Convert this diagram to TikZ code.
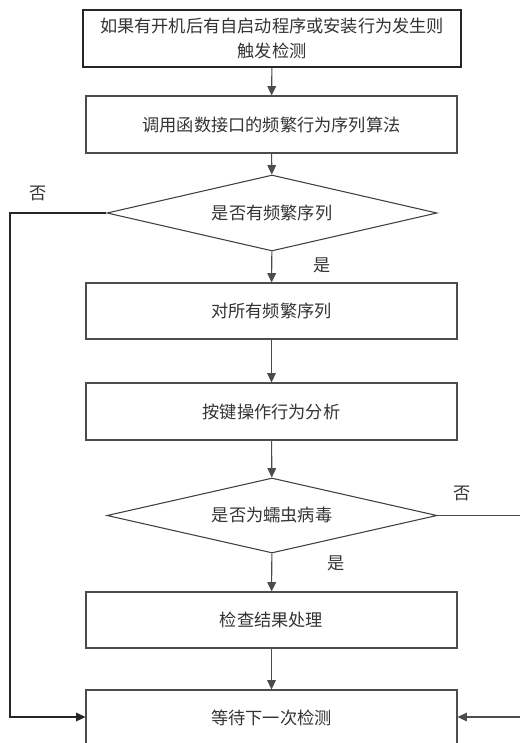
\documentclass[tikz,border=0pt]{standalone}
\usepackage{fontspec}
\newfontfamily\cjk{Noto Sans CJK SC}
\usetikzlibrary{shapes.geometric,arrows.meta}
\begin{document}
\begin{tikzpicture}[x=0.75pt,y=-0.75pt,
  every node/.style={font=\cjk\fontsize{12.9pt}{18.75pt}\selectfont, text=black!80},
  stepbox/.style={draw=black!70, line width=0.8pt, minimum width=371*0.75pt, minimum height=56*0.75pt, inner sep=0pt, align=center},
  choice/.style={diamond, draw=black!75, line width=0.8pt, minimum width=330*0.75pt, minimum height=76*0.75pt, aspect=4.34, inner sep=0pt},
  flow/.style={draw=black!70, line width=0.8pt, -{Triangle[length=7pt,width=6.5pt]}},
  lab/.style={font=\cjk\fontsize{12.9pt}{15pt}\selectfont, text=black!80}]
\useasboundingbox (0,0) rectangle (520,743);
\clip (0,0) rectangle (520,743);
\node[stepbox, draw=black!85, minimum width=378*0.75pt, minimum height=57*0.75pt] (b1) at (272,38.5) {如果有开机后有自启动程序或安装行为发生则\\触发检测};
\node[stepbox, minimum height=57*0.75pt] (b2) at (271.5,124.5) {调用函数接口的频繁行为序列算法};
\node[choice] (d1) at (272,213) {是否有频繁序列};
\node[stepbox] (b3) at (271.5,311) {对所有频繁序列};
\node[stepbox, minimum height=57*0.75pt] (b4) at (271.5,411.5) {按键操作行为分析};
\node[choice, minimum height=75*0.75pt] (d2) at (272,515.5) {是否为蠕虫病毒};
\node[stepbox] (b5) at (271.5,620) {检查结果处理};
\node[stepbox, minimum height=56*0.75pt] (b6) at (271.5,718) {等待下一次检测};
\node[lab] (n1) at (38,193) {否};
\node[lab] (y1) at (322,265) {是};
\node[lab] (n2) at (462,493) {否};
\node[lab] (y2) at (336,563) {是};
\coordinate (lc1) at (10,213);
\coordinate (lc2) at (10,717);
\coordinate (rc1) at (530,515.5);
\coordinate (rc2) at (530,717);
\draw[flow] (b1) -- (b2);
\draw[flow] (b2) -- (d1);
\draw[flow] (d1) -- (b3);
\draw[flow] (b3) -- (b4);
\draw[flow] (b4) -- (d2);
\draw[flow] (d2) -- (b5);
\draw[flow] (b5) -- (b6);
\draw[flow, draw=black!85] (d1.west) -- (lc1) -- (lc2) -- (b6.west |- lc2);
\draw[flow] (d2.east) -- (rc1) -- (rc2) -- (b6.east |- rc2);
\end{tikzpicture}
\end{document}
